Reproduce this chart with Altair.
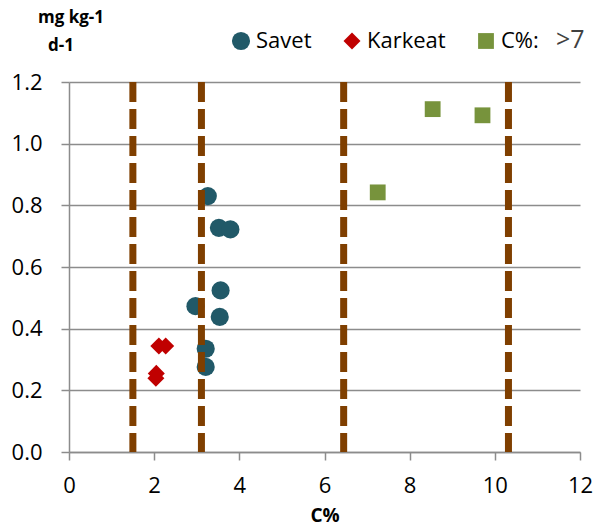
import altair as alt
import pandas as pd

# ---- data ----
savet_x = [3.26, 3.52, 3.79, 2.97, 3.56, 3.54, 3.21, 3.21]
savet_y = [0.830, 0.727, 0.722, 0.473, 0.524, 0.438, 0.335, 0.276]
karkeat_x = [2.11, 2.27, 2.05, 2.04]
karkeat_y = [0.344, 0.344, 0.255, 0.239]
c7_x = [8.54, 9.71, 7.25]
c7_y = [1.112, 1.092, 0.842]
dash_x = [1.50, 3.11, 6.45, 10.32]

series_names = ["Savet", "Karkeat", "C%:"]
series_colors = ["#215968", "#C00000", "#77933C"]
series_shapes = ["circle", "diamond", "square"]
series_sizes = [330, 250, 256]

x_ticks = [0, 2, 4, 6, 8, 10, 12]
y_ticks = [0.0, 0.2, 0.4, 0.6, 0.8, 1.0, 1.2]

unit_lines = ["mg kg-1", "d-1"]
legend_extra = [">7"]

rows = []
for xs, ys, name in [(savet_x, savet_y, "Savet"), (karkeat_x, karkeat_y, "Karkeat"), (c7_x, c7_y, "C%:")]:
    for a, b in zip(xs, ys):
        rows.append({"C": a, "V": b, "series": name})
df = pd.DataFrame(rows)
dash_df = pd.DataFrame({"x": dash_x})

FONT = "Open Sans"
GRAY = "#8c8c8c"

legend = alt.Legend(
    title=None, orient="none", legendX=161, legendY=-52, direction="horizontal",
    labelFontSize=22, labelFont=FONT, labelColor="#000000", labelOffset=4,
    columnPadding=29, padding=0, symbolStrokeWidth=0, symbolOpacity=1,
)

points = alt.Chart(df).mark_point(filled=True, opacity=1, strokeWidth=0).encode(
    x=alt.X("C:Q", scale=alt.Scale(domain=[0, 12], nice=False),
            axis=alt.Axis(values=x_ticks, title="C%", grid=False, labelFlush=False)),
    y=alt.Y("V:Q", scale=alt.Scale(domain=[0, 1.2], nice=False),
            axis=alt.Axis(values=y_ticks, format=".1f", title=None, grid=True, labelPadding=19)),
    color=alt.Color("series:N", scale=alt.Scale(domain=series_names, range=series_colors), legend=legend),
    shape=alt.Shape("series:N", scale=alt.Scale(domain=series_names, range=series_shapes), legend=legend),
    size=alt.Size("series:N", scale=alt.Scale(domain=series_names, range=series_sizes), legend=legend),
)

rules = alt.Chart(dash_df).mark_rule(strokeDash=[20, 7], strokeWidth=7, color="#7F3F00").encode(
    x="x:Q"
)

t1 = alt.Chart(pd.DataFrame({"t": [unit_lines[0]]})).mark_text(
    font=FONT, fontSize=17, fontWeight="bold", align="center", baseline="alphabetic", color="#000000"
).encode(text="t:N", x=alt.value(2), y=alt.value(-59))
t2 = alt.Chart(pd.DataFrame({"t": [unit_lines[1]]})).mark_text(
    font=FONT, fontSize=17, fontWeight="bold", align="center", baseline="alphabetic", color="#000000"
).encode(text="t:N", x=alt.value(-8), y=alt.value(-31))
t3 = alt.Chart(pd.DataFrame({"t": legend_extra})).mark_text(
    font=FONT, fontSize=25, align="left", baseline="alphabetic", color="#404040"
).encode(text="t:N", x=alt.value(487), y=alt.value(-34))

chart = alt.layer(points, rules, t1, t2, t3).properties(
    width=511, height=370,
    autosize="none",
    padding={"left": 69, "top": 82, "right": 14, "bottom": 75},
).configure_view(strokeWidth=0).configure_axis(
    domainColor=GRAY, domainWidth=1.5, tickColor=GRAY, tickWidth=1.5, tickSize=8,
    gridColor=GRAY, gridWidth=1.5,
    labelFont=FONT, labelFontSize=22, labelColor="#000000", labelPadding=15,
    titleFont=FONT, titleFontSize=19, titleFontWeight="bold", titleColor="#000000",
).configure_axisX(titlePadding=10)

chart.save("out.html", embed_options={"renderer": "svg", "actions": False})
